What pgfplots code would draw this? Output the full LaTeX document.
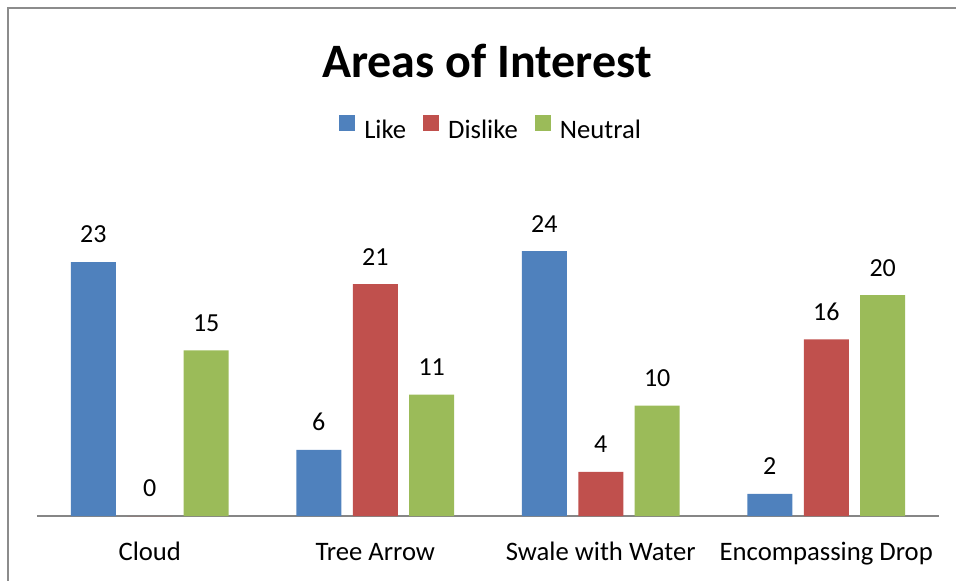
\documentclass[border=0pt]{standalone}
\usepackage{pgfplots}
\pgfplotsset{compat=1.18}
\usepackage{fontspec}
\setmainfont{Carlito}
\definecolor{cblue}{HTML}{4F81BD}
\definecolor{cred}{HTML}{C0504D}
\definecolor{cgreen}{HTML}{9BBB59}
\definecolor{bordergray}{HTML}{8C8C8C}
\definecolor{axisgray}{HTML}{868686}
\begin{document}
\begin{tikzpicture}
\useasboundingbox (0,0) rectangle (717pt,-435.75pt);
\draw[bordergray, line width=1.2pt] (6pt,-440pt) -- (6pt,-6pt) -- (720pt,-6pt);
\node[font=\fontsize{36}{40}\selectfont\bfseries, anchor=base, inner sep=0pt] at (365.25pt,-58.5pt) {Areas of Interest};
\begin{axis}[
  at={(27.75pt,-387pt)}, anchor=south west,
  scale only axis, width=676.5pt, height=248.4pt,
  xmin=-0.5, xmax=3.5, ymin=0, ymax=30,
  axis x line*=bottom, axis y line=none,
  x axis line style={-, draw=axisgray, line width=1.5pt},
  xtick={0,1,2,3},
  xticklabels={Cloud,Tree Arrow,Swale with Water,Encompassing Drop},
  major tick length=0pt,
  xticklabel style={font=\fontsize{20}{24}\selectfont, anchor=base, yshift=-33pt, text=black},
  ybar=8.6pt, bar width=33.75pt,
  nodes near coords,
  nodes near coords style={font=\fontsize{19.5}{24}\selectfont, anchor=south, inner sep=0pt, yshift=14pt, text=black},
  /pgf/number format/assume math mode=true,
  legend columns=-1,
  legend style={draw=none, at={(0.504,1.166)}, anchor=center, font=\fontsize{20}{24}\selectfont,
    nodes={inner sep=2.5pt},
    /tikz/every odd column/.append style={column sep=4.5pt},
    /tikz/every even column/.append style={column sep=10pt}},
  legend image code/.code={\fill[#1] (0pt,0pt) rectangle (12pt,11.5pt);},
]
\addplot[fill=cblue, draw=none] coordinates {(0,23) (1,6) (2,24) (3,2)};
\addplot[fill=cred, draw=none] coordinates {(0,0) (1,21) (2,4) (3,16)};
\addplot[fill=cgreen, draw=none] coordinates {(0,15) (1,11) (2,10) (3,20)};
\legend{Like,Dislike,Neutral}
\end{axis}
\end{tikzpicture}
\end{document}
